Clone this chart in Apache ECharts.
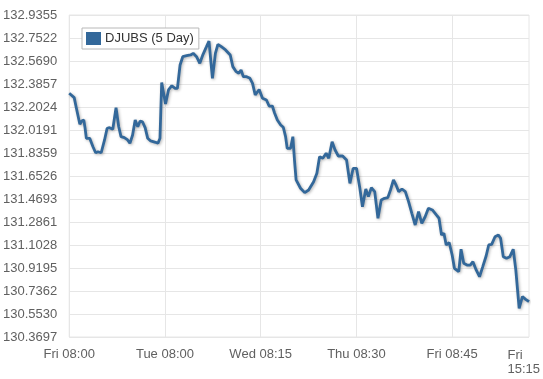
<!DOCTYPE html>
<html>
<head>
<meta charset="utf-8">
<script src="https://cdn.jsdelivr.net/npm/echarts@6/dist/echarts.min.js"></script>
<style>
html,body{margin:0;padding:0;background:#fff;}
#chart{width:543px;height:379px;}
</style>
</head>
<body>
<div id="chart"></div>
<script>
// Series name
const seriesName = 'DJUBS (5 Day)';

// X positions of samples (ordinal trading-time units, 100 per labelled step)
const xPos = [
  0, 5.2, 7.5, 11.1, 13.1, 15.2, 16.5, 17.9, 19.6, 21.4,
  24.8, 27.6, 30.0, 33.4, 36.9, 39.6, 42.1, 45.5, 48.9, 51.7,
  54.1, 57.6, 61.0, 63.4, 66.2, 68.9, 71.6, 74.1, 76.5, 79.3,
  82.0, 85.1, 90.2, 92.7, 94.8, 96.6, 100.6, 103.7, 107.2, 110.6,
  113.0, 115.8, 118.6, 122.7, 126.8, 129.5, 133.0, 136.4, 139.8, 143.4,
  146.0, 149.6, 152.7, 155.3, 158.9, 163.3, 168.2, 170.9, 174.4, 177.1,
  179.5, 181.9, 185.3, 188.8, 191.5, 194.3, 198.4, 201.9, 206.0, 208.8,
  212.2, 214.5, 217.4, 220.9, 223.6, 226.0, 227.7, 231.2, 233.6, 235.3,
  237.0, 241.6, 246.0, 250.1, 255.3, 258.7, 261.5, 264.9, 268.4, 271.1,
  274.6, 277.7, 281.1, 285.6, 289.7, 293.2, 296.6, 300.1, 303.6, 306.3,
  309.8, 312.5, 315.6, 319.1, 322.5, 325.9, 329.4, 332.8, 335.6, 338.7,
  341.4, 344.2, 347.6, 351.1, 354.5, 357.9, 361.4, 364.9, 368.3, 371.8,
  375.2, 379.3, 383.5, 386.3, 388.9, 391.4, 393.8, 396.9, 400.0, 402.4,
  406.9, 409.3, 412.1, 415.5, 418.9, 421.7, 425.1, 428.6, 432.0, 435.5,
  438.2, 441.3, 444.8, 448.3, 450.6, 453.4, 456.8, 460.3, 463.8, 466.5,
  470.0, 473.4, 476.8, 480.3
];

// Index values
const values = [
  132.312, 132.277, 132.192, 132.065, 132.091, 132.099, 132.038, 131.953, 131.966, 131.953,
  131.886, 131.838, 131.846, 131.838, 131.940, 132.033, 132.038, 132.025, 132.197, 132.045,
  131.966, 131.958, 131.940, 131.913, 131.979, 132.099, 132.045, 132.091, 132.085, 132.038,
  131.953, 131.932, 131.921, 131.913, 131.953, 132.398, 132.226, 132.338, 132.372, 132.351,
  132.351, 132.537, 132.603, 132.611, 132.617, 132.630, 132.603, 132.551, 132.622, 132.683,
  132.728, 132.431, 132.630, 132.702, 132.683, 132.657, 132.617, 132.524, 132.484, 132.471,
  132.497, 132.444, 132.444, 132.431, 132.391, 132.298, 132.342, 132.272, 132.258, 132.210,
  132.210, 132.155, 132.099, 132.059, 132.041, 131.966, 131.873, 131.873, 131.966, 131.780,
  131.621, 131.555, 131.520, 131.541, 131.607, 131.674, 131.806, 131.794, 131.834, 131.794,
  131.926, 131.860, 131.812, 131.812, 131.780, 131.594, 131.714, 131.714, 131.555, 131.408,
  131.549, 131.488, 131.559, 131.528, 131.316, 131.461, 131.475, 131.480, 131.541, 131.621,
  131.581, 131.528, 131.549, 131.528, 131.448, 131.355, 131.262, 131.368, 131.276, 131.328,
  131.395, 131.382, 131.342, 131.316, 131.183, 131.196, 131.103, 131.123, 131.023, 130.917,
  130.890, 131.069, 130.957, 130.943, 130.943, 130.970, 130.904, 130.850, 130.930, 131.015,
  131.103, 131.108, 131.169, 131.183, 131.156, 131.010, 130.997, 131.010, 131.069, 130.904,
  130.598, 130.691, 130.670, 130.651
];

// Axis ticks and labels
const xTickPos = [0, 100, 200, 300, 400];
const xLabelPos = [0, 100, 200, 300, 400, 474];
const xLabels = ['Fri 08:00', 'Tue 08:00', 'Wed 08:15', 'Thu 08:30', 'Fri 08:45', 'Fri\n15:15'];
const yTicks = [130.3697, 130.5530, 130.7362, 130.9195, 131.1028, 131.2861, 131.4693, 131.6526,
                131.8359, 132.0191, 132.2024, 132.3857, 132.5690, 132.7522, 132.9355];

const chart = echarts.init(document.getElementById('chart'), null, {renderer: 'canvas'});
const FONT = "'Liberation Sans', Arial, sans-serif";
const lineColor = '#33689a';

chart.setOption({
  animation: false,
  backgroundColor: '#ffffff',
  textStyle: {fontFamily: FONT},
  grid: {
    left: 68, right: 9, top: 15, bottom: 42,
    show: true, borderColor: '#e6e6e6', borderWidth: 1, backgroundColor: 'transparent'
  },
  legend: {
    left: 82, top: 28,
    padding: [4, 5, 4, 4],
    itemWidth: 15, itemHeight: 13, itemGap: 5,
    borderColor: '#b8b8b8', borderWidth: 1, borderRadius: 0,
    backgroundColor: '#ffffff',
    icon: 'rect',
    textStyle: {fontFamily: FONT, fontSize: 13, color: '#333333', padding: [0, 0, 0, -1]},
    data: [seriesName]
  },
  xAxis: {
    type: 'value',
    min: xPos[0], max: xPos[xPos.length - 1],
    axisLine: {show: false},
    axisTick: {show: false, customValues: xTickPos},
    splitLine: {show: true, lineStyle: {color: '#e6e6e6', width: 1}},
    axisLabel: {
      customValues: xLabelPos,
      margin: 11,
      fontFamily: FONT, fontSize: 13, color: '#606060',
      formatter: function (v) {
        const i = xLabelPos.indexOf(v);
        const t = i >= 0 ? xLabels[i] : '';
        if (t.indexOf('\n') >= 0) {
          return t.split('\n').map(s => '{w|' + s + '}').join('\n');
        }
        return t;
      },
      rich: {
        w: {width: 31, align: 'left', fontFamily: FONT, fontSize: 13, color: '#606060', lineHeight: 14}
      }
    }
  },
  yAxis: {
    type: 'value',
    min: yTicks[0], max: yTicks[yTicks.length - 1],
    axisLine: {show: false},
    axisTick: {show: false, customValues: yTicks},
    splitLine: {show: true, lineStyle: {color: '#e6e6e6', width: 1}},
    axisLabel: {
      customValues: yTicks,
      margin: 12,
      fontFamily: FONT, fontSize: 13, color: '#606060',
      formatter: v => Number(v).toFixed(4)
    }
  },
  series: [{
    name: seriesName,
    type: 'line',
    symbol: 'none',
    showSymbol: false,
    itemStyle: {color: lineColor},
    lineStyle: {
      color: lineColor, width: 2.8,
      shadowColor: 'rgba(0,0,0,0.3)', shadowBlur: 3, shadowOffsetX: 1, shadowOffsetY: 1
    },
    data: xPos.map((x, i) => [x, values[i]])
  }]
});
</script>
</body>
</html>
